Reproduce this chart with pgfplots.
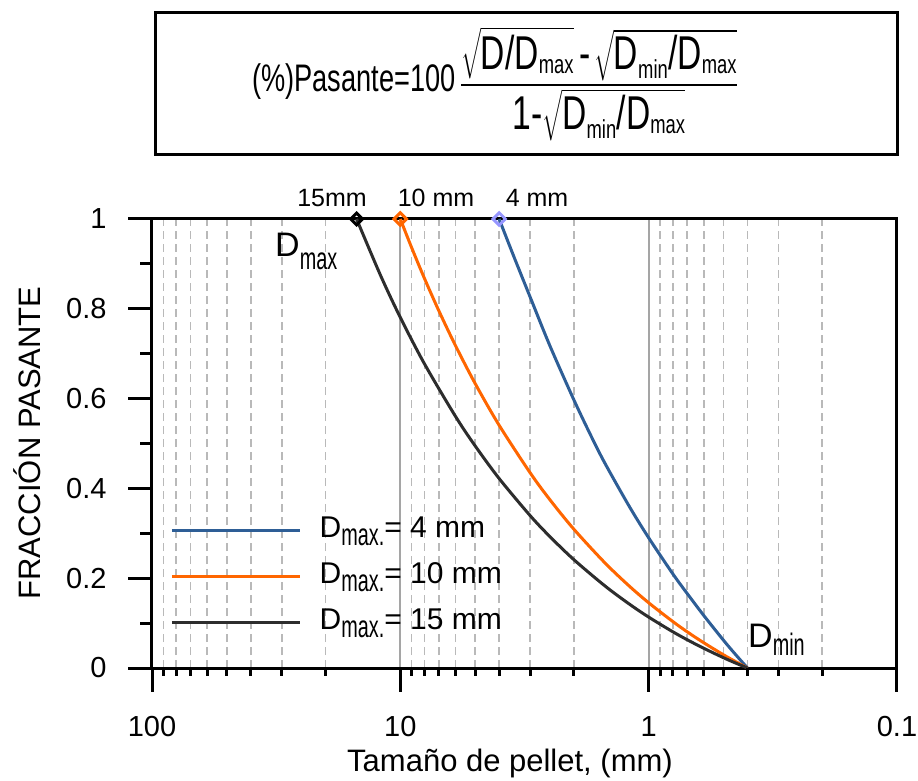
\documentclass[border=0pt]{standalone}
\usepackage{pgfplots}
\pgfplotsset{compat=1.18}
\usepackage{amsmath}
\usepackage{graphicx}
\usepackage{fontspec}
\setmainfont{Liberation Sans}

\definecolor{curveblue}{RGB}{46,94,150}
\definecolor{curveorange}{RGB}{255,102,0}
\definecolor{curvedark}{RGB}{45,45,45}
\definecolor{markblue}{RGB}{150,150,255}
\definecolor{gridmajor}{RGB}{165,165,165}
\definecolor{gridminor}{RGB}{185,185,185}

\newcommand\fs[1]{\fontsize{#1}{#1}\selectfont}
% narrow subscript: #1 drop below the baseline, #2 text
\newcommand\nsub[2]{\raisebox{-#1}{\scalebox{0.64}[1]{\fs{31}#2}}}
\newcommand\fsub[1]{_{\text{\fs{23}#1}}}

\begin{document}
\begin{tikzpicture}
\useasboundingbox (0pt,0pt) rectangle (918pt,780pt);

% framed grading formula
\draw[line width=3pt] (155pt,625pt) rectangle (897pt,767pt);
\node[anchor=base west, inner sep=0pt] at (252pt,688pt)
  {\scalebox{0.8}[1.13]{\fs{34}(\%)Pasante=100\,\fs{42}%
   $\dfrac{\sqrt{\text{D/D}\fsub{max}}\;\text{-}\,\sqrt{\text{D}\fsub{min}\text{/D}\fsub{max}}}
          {\text{1-}\sqrt{\text{D}\fsub{min}\text{/D}\fsub{max}}}$}};

\begin{axis}[
  at={(152pt,112pt)}, anchor=south west,
  scale only axis, width=745pt, height=449pt,
  xmode=log, x dir=reverse,
  xmin=0.1, xmax=100, ymin=0, ymax=1,
  xtick={0.1,1,10,100}, xticklabels={0.1,1,10,100},
  minor xtick={0.2,0.3,0.4,0.5,0.6,0.7,0.8,0.9,2,3,4,5,6,7,8,9,20,30,40,50,60,70,80,90},
  ytick={0,0.2,0.4,0.6,0.8,1}, yticklabels={0,0.2,0.4,0.6,0.8,1},
  tick align=inside, tick pos=left,
  major tick length=0pt, minor tick length=0pt,
  axis line style={line width=3pt},
  xmajorgrids, xminorgrids,
  major grid style={draw=gridmajor, line width=2pt},
  minor grid style={draw=gridminor, line width=1.6pt, dash pattern=on 8pt off 5pt},
  tick label style={font=\fs{29}},
  xticklabel style={yshift=-45pt},
  yticklabel style={xshift=-42pt},
  legend style={draw=none, fill=none, at={(rel axis cs:0.0242,0.345)}, anchor=north west,
    inner sep=0pt, row sep=12pt, column sep=18pt, font=\fs{30},
    nodes={inner sep=0pt, text height=24pt, text depth=10pt}},
  legend cell align=left,
  legend image code/.code={\draw[#1, line width=3.5pt] (0pt,0pt) -- (128pt,0pt);},
]
% D_max = 4 mm
\addplot[curveblue, line width=3pt, smooth] coordinates {
  (4,1) (3.5,0.918) (3,0.826) (2.5,0.718) (2,0.597) (1.7,0.515) (1.5,0.456)
  (1.2,0.361) (1,0.290) (0.8,0.210) (0.7,0.166) (0.6,0.117) (0.5,0.062)
  (0.45,0.032) (0.4,0)};
\addlegendentry{D\nsub{8pt}{max.}= 4 mm}
% D_max = 10 mm
\addplot[curveorange, line width=3pt, smooth] coordinates {
  (10,1) (9,0.9359) (8,0.8680) (7,0.7958) (6,0.7183) (5,0.6339) (4,0.5406)
  (3,0.4347) (2.5,0.3750) (2,0.3090) (1.5,0.2341) (1.2,0.1830) (1,0.1453)
  (0.8,0.1036) (0.7,0.0807) (0.6,0.0562) (0.5,0.0295) (0.45,0.0152) (0.4,0)};
\addlegendentry{D\nsub{8pt}{max.}= 10 mm}
% D_max = 15 mm
\addplot[curvedark, line width=3pt, smooth] coordinates {
  (15,1) (12,0.8738) (10,0.7807) (8,0.6777) (6,0.5607) (5,0.4949) (4,0.4220)
  (3,0.3393) (2.5,0.2928) (2,0.2412) (1.5,0.1828) (1.2,0.1429) (1,0.1134)
  (0.8,0.0808) (0.7,0.0630) (0.6,0.0439) (0.5,0.0230) (0.45,0.0118) (0.4,0)};
\addlegendentry{D\nsub{8pt}{max.}= 15 mm}
% D_max markers on the top edge
\addplot[forget plot, only marks, mark=square, mark size=4.4pt,
  mark options={rotate=45, draw=markblue, line width=3pt}] coordinates {(4,1)};
\addplot[forget plot, only marks, mark=square, mark size=4.4pt,
  mark options={rotate=45, draw=curveorange, line width=3pt}] coordinates {(10,1)};
\addplot[forget plot, only marks, mark=square, mark size=4.2pt,
  mark options={rotate=45, draw=black, line width=3pt}] coordinates {(15,1)};
\end{axis}

% outward tick marks (axis box: x 152..897pt, y 112..561pt)
\begin{scope}[line width=3pt]
\foreach \v in {0.1,1,10,100}{%
  \pgfmathsetmacro\xx{152+(2-log10(\v))*248.3333}
  \draw (\xx pt,112pt) -- (\xx pt,88pt);}
\foreach \v in {0.2,0.3,0.4,0.5,0.6,0.7,0.8,0.9,2,3,4,5,6,7,8,9,20,30,40,50,60,70,80,90}{%
  \pgfmathsetmacro\xx{152+(2-log10(\v))*248.3333}
  \draw (\xx pt,112pt) -- (\xx pt,104pt);}
\foreach \v in {0,0.2,0.4,0.6,0.8,1}{%
  \pgfmathsetmacro\yy{112+\v*449}
  \draw (152pt,\yy pt) -- (128pt,\yy pt);}
\foreach \v in {0.1,0.3,0.5,0.7,0.9}{%
  \pgfmathsetmacro\yy{112+\v*449}
  \draw (152pt,\yy pt) -- (140pt,\yy pt);}
\end{scope}

% annotations
\node[anchor=base, inner sep=0pt, font=\fs{25}] at (332pt,573pt) {15mm};
\node[anchor=base, inner sep=0pt, font=\fs{25}] at (436pt,573pt) {10 mm};
\node[anchor=base, inner sep=0pt, font=\fs{25}] at (537pt,573pt) {4 mm};
\node[anchor=base west, inner sep=0pt] at (275pt,523pt) {\fs{34}D\nsub{13pt}{max}};
\node[anchor=base west, inner sep=0pt] at (748pt,133pt) {\fs{34}D\nsub{8pt}{min}};

% axis titles
\node[anchor=base, inner sep=0pt, font=\fs{31}] at (510pt,9pt) {Tamaño de pellet, (mm)};
\node[anchor=base, inner sep=0pt, font=\fs{31}, rotate=90] at (40pt,337pt) {FRACCIÓN PASANTE};
\end{tikzpicture}
\end{document}
